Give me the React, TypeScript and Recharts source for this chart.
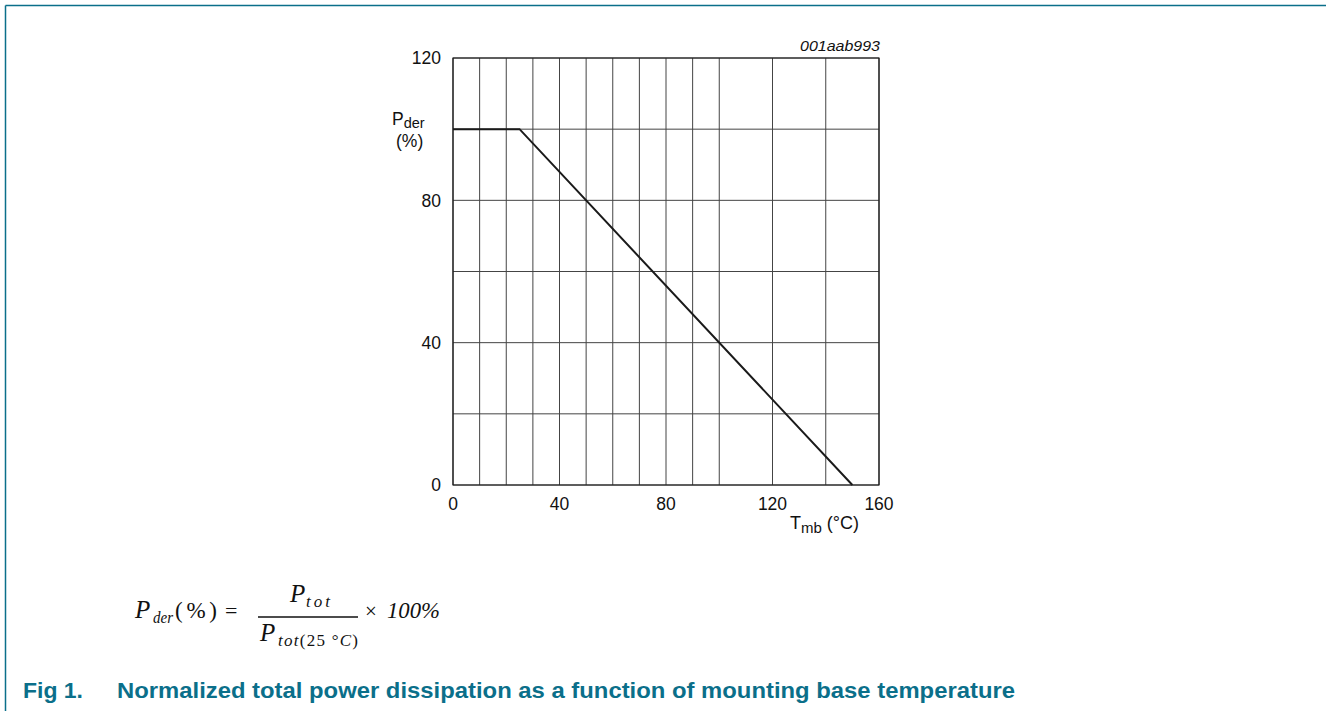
import React from 'react'
import {
  LineChart, Line, XAxis, YAxis, CartesianGrid, ReferenceArea,
} from 'recharts'

// derating curve: P_der (%) vs T_mb (°C)
const TEMPS = [0, 25, 150]
const PDER = [100, 100, 0]

const X_TICKS = [0, 40, 80, 120, 160]
const Y_TICKS = [0, 40, 80, 120]
const X_GRID = [0, 10, 20, 30, 40, 50, 60, 70, 80, 90, 100, 110, 120, 130, 140, 150, 160]
const Y_GRID = [0, 20, 40, 60, 80, 100, 120]

const TEAL = '#0b6f8a'
const SANS = 'Arial, "Liberation Sans", Helvetica, sans-serif'
const SERIF = '"Times New Roman", "Liberation Serif", serif'

const data = TEMPS.map((t, i) => ({ t, p: PDER[i] }))

function Overlay() {
  return (
    <svg
      width={1326}
      height={711}
      style={{ position: 'absolute', left: 0, top: 0, pointerEvents: 'none' }}
    >
      {/* page frame */}
      <line x1={5.5} y1={5.5} x2={1326} y2={5.5} stroke={TEAL} strokeWidth={1.5} />
      <line x1={5.5} y1={5.5} x2={5.5} y2={711} stroke={TEAL} strokeWidth={1.5} />

      {/* code */}
      <text x={800} y={51} fontFamily={SANS} fontStyle="italic" fontSize={15} fill="#111"
        textLength={80} lengthAdjust="spacingAndGlyphs">
        001aab993
      </text>

      {/* y axis label */}
      <text x={392} y={125} fontFamily={SANS} fontSize={17.5} fill="#111">
        P<tspan fontSize={14.5} dy={3}>der</tspan>
      </text>
      <text x={396} y={147} fontFamily={SANS} fontSize={17.5} fill="#111">(%)</text>

      {/* x axis label */}
      <text x={790} y={529} fontFamily={SANS} fontSize={18} fill="#111">
        T<tspan fontSize={15} dy={4}>mb</tspan><tspan dy={-4}> (°C)</tspan>
      </text>

      {/* formula */}
      <g fontFamily={SERIF} fill="#111">
        <text x={135} y={618} fontSize={25} fontStyle="italic">P</text>
        <text x={153} y={623} fontSize={17} fontStyle="italic" textLength={20} lengthAdjust="spacingAndGlyphs">der</text>
        <text x={175} y={618} fontSize={23} textLength={42} lengthAdjust="spacing">(%)</text>
        <text x={225} y={618} fontSize={22}>=</text>

        <text x={290} y={602} fontSize={25} fontStyle="italic">P</text>
        <text x={306} y={607} fontSize={17} fontStyle="italic" textLength={24} lengthAdjust="spacing">tot</text>
        <line x1={258} y1={617} x2={358} y2={617} stroke="#111" strokeWidth={1.3} />
        <text x={260} y={641} fontSize={25} fontStyle="italic">P</text>
        <text x={278} y={646} fontSize={17} fontStyle="italic" textLength={80} lengthAdjust="spacing">
          tot<tspan fontStyle="normal">(25 °</tspan>C<tspan fontStyle="normal">)</tspan>
        </text>

        <text x={365} y={618} fontSize={21}>×</text>
        <text x={387} y={618} fontSize={24} fontStyle="italic" textLength={53} lengthAdjust="spacingAndGlyphs">100%</text>
      </g>

      {/* caption */}
      <g fontFamily={SANS} fontWeight="bold" fontSize={21.5} fill={TEAL}>
        <text x={23} y={698} textLength={60} lengthAdjust="spacingAndGlyphs">Fig 1.</text>
        <text x={117} y={698} textLength={898} lengthAdjust="spacingAndGlyphs">
          Normalized total power dissipation as a function of mounting base temperature
        </text>
      </g>
    </svg>
  )
}

export default function App() {
  return (
    <div style={{ position: 'absolute', left: 0, top: 0, width: 1326, height: 711, background: '#fff' }}>
      <LineChart
        width={1326}
        height={711}
        data={data}
        margin={{ top: 58, right: 447, bottom: 196, left: 393 }}
      >
        <CartesianGrid
          stroke="#444"
          strokeWidth={1}
          verticalValues={X_GRID}
          horizontalValues={Y_GRID}
        />
        <XAxis
          dataKey="t"
          type="number"
          domain={[0, 160]}
          ticks={X_TICKS}
          height={30}
          axisLine={false}
          tickLine={false}
          tickMargin={7}
          tick={{ fontFamily: SANS, fontSize: 17.5, fill: '#111' }}
        />
        <YAxis
          type="number"
          domain={[0, 120]}
          ticks={Y_TICKS}
          width={60}
          axisLine={false}
          tickLine={false}
          tickMargin={6}
          tick={{ fontFamily: SANS, fontSize: 17.5, fill: '#111' }}
        />
        <ReferenceArea x1={0} x2={160} y1={0} y2={120} fill="none" stroke="#1a1a1a" strokeWidth={1.2} />
        <Line
          type="linear"
          dataKey="p"
          stroke="#1a1a1a"
          strokeWidth={2}
          dot={false}
          activeDot={false}
          isAnimationActive={false}
        />
      </LineChart>
      <Overlay />
    </div>
  )
}
